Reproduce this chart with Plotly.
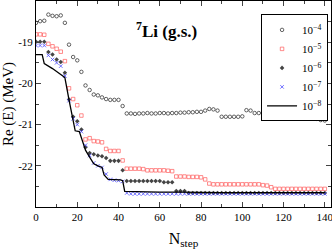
import plotly.graph_objects as go

n_step = list(range(0, 141, 2))

e_1e4 = [-18.53, -18.49, -18.48, -18.33, -18.36, -18.37, -18.35, -18.53, -19.06, -19.36,
         -19.44, -19.72, -20.05, -20.16, -20.27, -20.29, -20.34, -20.38, -20.40, -20.40,
         -20.40, -20.55, -20.73, -20.73, -20.74, -20.73, -20.73, -20.72, -20.73, -20.73,
         -20.72, -20.72, -20.73, -20.72, -20.72, -20.71, -20.71, -20.70, -20.70, -20.69,
         -20.69, -20.66, -20.62, -20.63, -20.66, -20.81, -20.81, -20.81, -20.81, -20.81,
         -20.80, -20.65, -20.66, -20.72, -20.72, -20.72, -20.71, -20.72, -20.72, -20.72,
         -20.72, -20.72, -20.77, -20.78, -20.79, -20.83, -20.84, -20.85, -20.86, -20.89,
         -20.90]

e_1e5 = [-18.81, -18.81, -18.82, -19.04, -19.10, -19.16, -19.23, -19.46, -20.12, -20.38,
         -20.53, -20.78, -21.36, -21.33, -21.40, -21.41, -21.43, -21.59, -21.64, -21.64,
         -21.64, -21.87, -22.07, -22.07, -22.07, -22.07, -22.08, -22.11, -22.11, -22.11,
         -22.11, -22.11, -22.12, -22.13, -22.26, -22.26, -22.26, -22.27, -22.27, -22.27,
         -22.28, -22.33, -22.43, -22.45, -22.45, -22.45, -22.45, -22.45, -22.45, -22.45,
         -22.45, -22.45, -22.45, -22.45, -22.45, -22.47, -22.48, -22.52, -22.56, -22.56,
         -22.56, -22.56, -22.56, -22.56, -22.56, -22.56, -22.56, -22.56, -22.56, -22.56,
         -22.56]

e_1e6 = [-18.99, -18.99, -18.99, -19.24, -19.30, -19.42, -19.48, -19.74, -20.39, -20.81,
         -20.92, -21.12, -21.55, -21.69, -21.72, -21.75, -21.77, -21.81, -21.88, -21.88,
         -21.88, -22.11, -22.37, -22.37, -22.37, -22.37, -22.37, -22.37, -22.37, -22.37,
         -22.37, -22.40, -22.40, -22.40, -22.61, -22.61, -22.61, -22.66, -22.66, -22.66,
         -22.66, -22.66, -22.66, -22.66, -22.66, -22.66, -22.66, -22.66, -22.66, -22.66,
         -22.66, -22.66, -22.66, -22.66, -22.66, -22.66, -22.66, -22.66, -22.66, -22.66,
         -22.66, -22.66, -22.66, -22.66, -22.66, -22.66, -22.66, -22.66, -22.66, -22.66,
         -22.66]

e_1e7 = [-19.08, -19.08, -19.08, -19.32, -19.42, -19.50, -19.58, -19.82, -20.42, -20.86,
         -21.00, -21.17, -21.50, -21.75, -21.93, -22.00, -22.04, -22.20, -22.33, -22.35,
         -22.36, -22.38, -22.66, -22.68, -22.68, -22.68, -22.68, -22.68, -22.68, -22.68,
         -22.68, -22.68, -22.68, -22.68, -22.68, -22.68, -22.68, -22.68, -22.68, -22.68,
         -22.68, -22.68, -22.68, -22.68, -22.68, -22.68, -22.68, -22.68, -22.68, -22.68,
         -22.68, -22.68, -22.68, -22.68, -22.68, -22.68, -22.68, -22.68, -22.68, -22.68,
         -22.68, -22.68, -22.68, -22.68, -22.68, -22.68, -22.68, -22.68, -22.68, -22.68,
         -22.68]

n_1e8 = [0, 3, 4, 8, 13, 14, 16, 18, 19, 21, 23, 24, 26, 28, 30, 32, 33, 35, 41, 42, 43,
         50, 60, 70, 80, 90, 100, 110, 120, 130, 140]
e_1e8 = [-19.30, -19.30, -19.52, -19.64, -19.82, -19.86, -20.40, -20.95, -21.15, -21.17,
         -21.45, -21.62, -21.79, -21.95, -22.00, -22.04, -22.22, -22.33, -22.34, -22.36,
         -22.62, -22.63, -22.64, -22.64, -22.65, -22.65, -22.65, -22.65, -22.65, -22.65,
         -22.65]

y_ticks = [-22, -21, -20, -19]
y_tick_text = ["-22", "-21", "-20", "-19"]
x_ticks = [0, 20, 40, 60, 80, 100, 120, 140]

FONT = "Liberation Serif, Times New Roman, serif"

fig = go.Figure()
fig.add_trace(go.Scatter(x=n_step, y=e_1e4, mode="markers", name="10<sup>−4</sup>",
                         marker=dict(symbol="circle-open", size=3.5, color="#222222",
                                     line=dict(width=0.7))))
fig.add_trace(go.Scatter(x=n_step, y=e_1e5, mode="markers", name="10<sup>−5</sup>",
                         marker=dict(symbol="square-open", size=3.5, color="#ff5a5a",
                                     line=dict(width=0.7))))
fig.add_trace(go.Scatter(x=n_step, y=e_1e6, mode="markers", name="10<sup>−6</sup>",
                         marker=dict(symbol="diamond", size=3.5, color="#444444")))
fig.add_trace(go.Scatter(x=n_step, y=e_1e7, mode="markers", name="10<sup>−7</sup>",
                         marker=dict(symbol="x-thin-open", size=3.5, color="#4a4aff",
                                     line=dict(width=0.8))))
fig.add_trace(go.Scatter(x=n_1e8, y=e_1e8, mode="lines", name="10<sup>−8</sup>",
                         line=dict(color="black", width=1.3)))

fig.update_layout(
    template="none",
    width=332, height=249,
    autosize=False,
    margin=dict(l=36, r=1, t=1, b=42, autoexpand=False),
    paper_bgcolor="white", plot_bgcolor="white",
    font=dict(family=FONT, size=11, color="black"),
    showlegend=True,
    legend=dict(x=0.99, y=0.935, xanchor="right", yanchor="top",
                bordercolor="black", borderwidth=1, bgcolor="white",
                font=dict(family=FONT, size=11), itemwidth=30,
                tracegroupgap=0),
    annotations=[dict(text="<b><sup>7</sup>Li (g.s.)</b>", x=0.444, y=0.86,
                      xref="paper", yref="paper", xanchor="center",
                      yanchor="middle", showarrow=False,
                      font=dict(family=FONT, size=17, color="black"))],
)

fig.update_xaxes(range=[0, 143], autorange=False, automargin=False,
                 tickmode="array", tickvals=x_ticks, ticks="inside", ticklen=5,
                 ticklabeloverflow="allow",
                 showline=True, linecolor="black", linewidth=1, mirror="ticks",
                 showgrid=False, zeroline=False,
                 minor=dict(dtick=10, tick0=0, ticks="inside", ticklen=3, showgrid=False),
                 title=dict(text="N<sub>step</sub>", font=dict(family=FONT, size=16)),
                 tickfont=dict(family=FONT, size=11))
fig.update_yaxes(range=[-23, -18], autorange=False, automargin=False,
                 tickmode="array", tickvals=y_ticks, ticktext=y_tick_text, ticks="inside",
                 ticklabeloverflow="allow",
                 ticklen=5, showline=True, linecolor="black", linewidth=1, mirror="ticks",
                 showgrid=False, zeroline=False,
                 minor=dict(dtick=0.5, tick0=-23, ticks="inside", ticklen=3, showgrid=False),
                 title=dict(text="Re (E) (MeV)", font=dict(family=FONT, size=15)),
                 tickfont=dict(family=FONT, size=11))

fig.write_html("out.html", config={"displayModeBar": False},
               post_script="document.body.style.margin='0';document.body.style.padding='0';")
